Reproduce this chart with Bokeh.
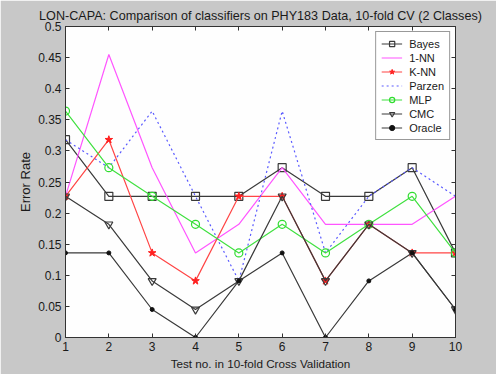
from bokeh.plotting import figure
from bokeh.models import Range1d, LinearAxis, FixedTicker, Legend, LegendItem
from bokeh.embed import file_html
from bokeh.resources import INLINE

folds = [1, 2, 3, 4, 5, 6, 7, 8, 9, 10]
bayes = [0.318, 0.227, 0.227, 0.227, 0.227, 0.273, 0.227, 0.227, 0.273, 0.136]
nn1 = [0.227, 0.455, 0.273, 0.136, 0.182, 0.273, 0.182, 0.182, 0.182, 0.227]
knn = [0.227, 0.318, 0.136, 0.091, 0.227, 0.227, 0.091, 0.182, 0.136, 0.136]
parzen = [0.318, 0.273, 0.364, 0.227, 0.091, 0.364, 0.136, 0.227, 0.273, 0.227]
mlp = [0.364, 0.273, 0.227, 0.182, 0.136, 0.182, 0.136, 0.182, 0.227, 0.136]
cmc = [0.227, 0.182, 0.091, 0.045, 0.091, 0.227, 0.091, 0.182, 0.136, 0.045]
oracle = [0.136, 0.136, 0.045, 0.0, 0.091, 0.136, 0.0, 0.091, 0.136, 0.045]

y_ticks = [0, 0.05, 0.1, 0.15, 0.2, 0.25, 0.3, 0.35, 0.4, 0.45, 0.5]
y_tick_labels = ["0", "0.05", "0.1", "0.15", "0.2", "0.25", "0.3", "0.35", "0.4", "0.45", "0.5"]
x_ticks = folds

title_text = "LON-CAPA: Comparison of classifiers on PHY183 Data, 10-fold CV (2 Classes)"
FONT = "Liberation Sans"
TXT = "#1a1a1a"
AX = "#333333"

p = figure(width=496, height=374, output_backend="svg", toolbar_location=None,
           x_range=Range1d(1, 10), y_range=Range1d(0, 0.5),
           min_border_left=65, min_border_right=41, min_border_top=26, min_border_bottom=37,
           title=title_text)
p.background_fill_color = "#fefefe"
p.border_fill_color = "#c8c8c8"
p.outline_line_color = AX
p.grid.visible = False

p.title.text_font = FONT
p.title.text_font_size = "12.6px"
p.title.text_font_style = "normal"
p.title.text_color = TXT
p.title.align = "center"
p.title.standoff = 8
p.title.offset = -3

def style_axis(ax, labels=True):
    ax.major_tick_in = 4
    ax.major_tick_out = 0
    ax.minor_tick_line_color = None
    ax.axis_line_color = AX
    ax.major_tick_line_color = AX
    ax.major_label_text_font = FONT
    if labels:
        ax.major_label_text_color = TXT
        ax.major_label_text_font_size = "12px"
        ax.major_label_standoff = 4
    else:
        ax.major_label_text_color = None
        ax.major_label_text_font_size = "0px"
        ax.major_label_standoff = 0

p.xaxis.ticker = FixedTicker(ticks=x_ticks)
p.yaxis.ticker = FixedTicker(ticks=y_ticks)
p.yaxis.major_label_overrides = {t: l for t, l in zip(y_ticks, y_tick_labels)}
style_axis(p.xaxis[0])
style_axis(p.yaxis[0])
p.xaxis.axis_label = "Test no. in 10-fold Cross Validation"
p.yaxis.axis_label = "Error Rate"
for ax in (p.xaxis[0], p.yaxis[0]):
    ax.axis_label_text_font = FONT
    ax.axis_label_text_font_style = "normal"
    ax.axis_label_text_color = TXT
p.xaxis.axis_label_text_font_size = "11.7px"
p.yaxis.axis_label_text_font_size = "13px"
p.xaxis.axis_label_standoff = 3
p.yaxis.axis_label_standoff = 2

top_ax = LinearAxis(ticker=FixedTicker(ticks=x_ticks))
right_ax = LinearAxis(ticker=FixedTicker(ticks=y_ticks))
style_axis(top_ax, labels=False)
style_axis(right_ax, labels=False)
p.add_layout(top_ax, "above")
p.add_layout(right_ax, "right")

BLACK = "#3a3a3a"
items = []

r1 = p.line(folds, bayes, line_color=BLACK, line_width=1.2)
m1 = p.scatter(folds, bayes, marker="square", size=8, line_color=BLACK, fill_color=None, line_width=1.2)
items.append(LegendItem(label="Bayes", renderers=[r1, m1]))

r2 = p.line(folds, nn1, line_color="#ff55ff", line_width=1.2)
items.append(LegendItem(label="1-NN", renderers=[r2]))

r3 = p.line(folds, knn, line_color="#ff4545", line_width=1.2)
m3 = p.scatter(folds, knn, marker="star", size=8, line_color="#ff2020", fill_color="#ff2020")
items.append(LegendItem(label="K-NN", renderers=[r3, m3]))

r4 = p.line(folds, parzen, line_color="#5a5aff", line_width=1.2, line_dash="2 3")
items.append(LegendItem(label="Parzen", renderers=[r4]))

r5 = p.line(folds, mlp, line_color="#40e040", line_width=1.2)
m5 = p.scatter(folds, mlp, marker="circle", size=8, line_color="#30dd30", fill_color=None, line_width=1.2)
items.append(LegendItem(label="MLP", renderers=[r5, m5]))

r6 = p.line(folds, cmc, line_color=BLACK, line_width=1.2)
m6 = p.scatter(folds, cmc, marker="inverted_triangle", size=8, line_color=BLACK, fill_color=None, line_width=1.2)
items.append(LegendItem(label="CMC", renderers=[r6, m6]))

r7 = p.line(folds, oracle, line_color=BLACK, line_width=1.2)
m7 = p.scatter(folds, oracle, marker="circle", size=4, line_color="#111111", fill_color="#111111")
items.append(LegendItem(label="Oracle", renderers=[r7, m7]))

legend = Legend(items=items, location="top_right")
legend.border_line_color = AX
legend.border_line_width = 1
legend.background_fill_color = "white"
legend.background_fill_alpha = 1
legend.label_text_font = FONT
legend.label_text_font_size = "11px"
legend.label_text_color = TXT
legend.glyph_width = 21
legend.glyph_height = 13
legend.label_height = 13
legend.label_width = 34
legend.label_standoff = 7
legend.spacing = 1
legend.padding = 5
legend.margin = 5
p.add_layout(legend, "center")

open("out.html", "w").write(file_html(p, INLINE))
